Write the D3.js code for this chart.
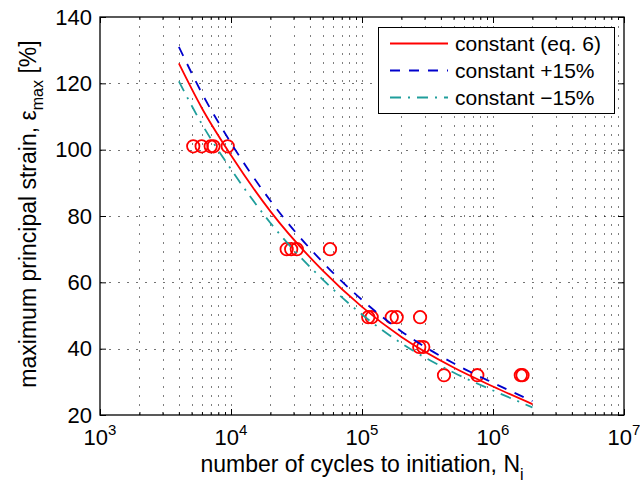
<!DOCTYPE html>
<html>
<head>
<meta charset="utf-8">
<script src="https://cdn.jsdelivr.net/npm/d3@7"></script>
<style>
  html, body { margin: 0; padding: 0; background: #fff; }
  svg { display: block; font-family: "Liberation Sans", Arial, Helvetica, sans-serif; }
</style>
</head>
<body>
<svg id="chart" width="640" height="484"></svg>
<script>
// Fitted strain-life curve (eq. 6) and its +/-15% constant bands
const fitCycles   = [4000, 6000, 10000, 20000, 50000, 100000, 200000, 500000, 1000000, 2000000];
const fitStrain   = [126, 112.5, 98.3, 81.4, 63.6, 52.6, 43.5, 34.3, 28.6, 23.3];
const plusStrain  = [131, 117, 102, 84.6, 66.1, 54.7, 45.2, 35.6, 29.7, 24.2];
const minusStrain = [120.6, 107.7, 94.1, 77.9, 60.9, 50.3, 41.6, 32.8, 27.4, 22.3];

// Test results: cycles to crack initiation and maximum principal strain
const testCycles = [5150, 5970, 7000, 7350, 9440,
                    26600, 28800, 31800, 57000,
                    111600, 118600, 168700, 184000, 277500,
                    273600, 293600,
                    422600, 759000, 1630000, 1680000];
const testStrain = [101, 101, 101, 101, 101,
                    70, 70, 70, 70,
                    49.5, 49.5, 49.5, 49.5, 49.5,
                    40.5, 40.5,
                    32, 32, 32, 32];

const xMajorTicks = [1e3, 1e4, 1e5, 1e6, 1e7];
const xExponents  = ["3", "4", "5", "6", "7"];
const yTicks      = [20, 40, 60, 80, 100, 120, 140];

const legendLabels = ["constant (eq. 6)", "constant +15%", "constant \u221215%"];

const margin = { left: 100, top: 17, right: 624, bottom: 415 };
const svg = d3.select("#chart");

const x = d3.scaleLog().domain([1e3, 1e7]).range([margin.left, margin.right]);
const y = d3.scaleLinear().domain([20, 140]).range([margin.bottom, margin.top]);

// minor decade positions 2..9 x 10^k
const xMinorTicks = [];
for (let d = 3; d < 7; d++) for (let k = 2; k <= 9; k++) xMinorTicks.push(k * Math.pow(10, d));

// dotted grid
const grid = svg.append("g").attr("stroke", "#000").attr("stroke-width", 1).attr("fill", "none");
grid.selectAll("line.vx")
  .data(xMinorTicks.concat([1e4, 1e5, 1e6]))
  .join("line")
  .attr("x1", d => Math.round(x(d)) + 0.5).attr("x2", d => Math.round(x(d)) + 0.5)
  .attr("y1", margin.top).attr("y2", margin.bottom)
  .attr("stroke-opacity", 0.5)
  .attr("stroke-dasharray", "2,7");
grid.selectAll("line.hy")
  .data(yTicks.slice(1, -1))
  .join("line")
  .attr("x1", margin.left).attr("x2", margin.right)
  .attr("y1", d => Math.round(y(d)) + 0.5).attr("y2", d => Math.round(y(d)) + 0.5)
  .attr("stroke-opacity", 0.55)
  .attr("stroke-dasharray", "2,7");

// axes (ticks point inwards)
function styleAxis(g) {
  g.select(".domain").remove();
  g.selectAll(".tick line").attr("stroke", "#000").attr("stroke-width", 1);
}
svg.append("g").attr("transform", `translate(0,${margin.bottom})`)
  .call(d3.axisBottom(x).tickValues(xMajorTicks).tickSize(-6).tickSizeOuter(0).tickFormat(""))
  .call(styleAxis);
svg.append("g").attr("transform", `translate(0,${margin.bottom})`)
  .call(d3.axisBottom(x).tickValues(xMinorTicks).tickSize(-3).tickSizeOuter(0).tickFormat(""))
  .call(styleAxis);
svg.append("g").attr("transform", `translate(0,${margin.top})`)
  .call(d3.axisTop(x).tickValues(xMajorTicks).tickSize(-6).tickSizeOuter(0).tickFormat(""))
  .call(styleAxis);
svg.append("g").attr("transform", `translate(0,${margin.top})`)
  .call(d3.axisTop(x).tickValues(xMinorTicks).tickSize(-3).tickSizeOuter(0).tickFormat(""))
  .call(styleAxis);
svg.append("g").attr("transform", `translate(${margin.left},0)`)
  .call(d3.axisLeft(y).tickValues(yTicks).tickSize(-6).tickSizeOuter(0).tickPadding(8))
  .call(styleAxis)
  .call(g => g.selectAll(".tick text")
    .attr("fill", "#000").attr("font-size", 22)
    .attr("font-family", "'Liberation Sans', Arial, sans-serif"));
svg.append("g").attr("transform", `translate(${margin.right},0)`)
  .call(d3.axisRight(y).tickValues(yTicks).tickSize(-6).tickSizeOuter(0).tickFormat(""))
  .call(styleAxis);

// x tick labels as powers of ten
const xLabels = svg.append("g").attr("font-size", 22).attr("fill", "#000");
xMajorTicks.forEach((v, i) => {
  const t = xLabels.append("text")
    .attr("x", x(v)).attr("y", margin.bottom + 30)
    .attr("text-anchor", "middle");
  t.append("tspan").text("10");
  t.append("tspan").attr("font-size", 15).attr("dy", -10).text(xExponents[i]);
});

// plot frame
svg.append("rect")
  .attr("x", margin.left).attr("y", margin.top)
  .attr("width", margin.right - margin.left).attr("height", margin.bottom - margin.top)
  .attr("fill", "none").attr("stroke", "#000").attr("stroke-width", 1.3);

// curves
const toPoints = vals => fitCycles.map((n, i) => ({ n, e: vals[i] }));
const line = d3.line().x(d => x(d.n)).y(d => y(d.e)).curve(d3.curveMonotoneX);

const series = [
  { vals: fitStrain,   color: "#ff0000", dash: null,         width: 1.8 },
  { vals: plusStrain,  color: "#0000cc", dash: "10,9",       width: 1.8 },
  { vals: minusStrain, color: "#1f9e9b", dash: "11,7,2,7",   width: 1.8 }
];

// test data markers
svg.append("g").selectAll("circle")
  .data(testCycles.map((n, i) => ({ n, e: testStrain[i] })))
  .join("circle")
  .attr("cx", d => x(d.n)).attr("cy", d => y(d.e)).attr("r", 6.2)
  .attr("fill", "none").attr("stroke", "#ff0000").attr("stroke-width", 1.8);

svg.append("g").selectAll("path")
  .data(series)
  .join("path")
  .attr("d", s => line(toPoints(s.vals)))
  .attr("fill", "none")
  .attr("stroke", s => s.color)
  .attr("stroke-width", s => s.width)
  .attr("stroke-dasharray", s => s.dash);

// legend
const lg = svg.append("g");
lg.append("rect").attr("x", 378.5).attr("y", 27.5).attr("width", 236).attr("height", 86)
  .attr("fill", "#fff").attr("stroke", "#000").attr("stroke-width", 1);
series.forEach((s, i) => {
  const yy = 43.5 + i * 27;
  lg.append("line").attr("x1", 390).attr("x2", 448).attr("y1", yy).attr("y2", yy)
    .attr("stroke", s.color).attr("stroke-width", s.width).attr("stroke-dasharray", s.dash);
  lg.append("text").attr("x", 455).attr("y", yy).attr("dy", "0.35em")
    .attr("font-size", 21).attr("fill", "#000").text(legendLabels[i]);
});

// axis titles
const xt = svg.append("text").attr("x", 362).attr("y", 472)
  .attr("text-anchor", "middle").attr("font-size", 23).attr("fill", "#000");
xt.append("tspan").text("number of cycles to initiation, N");
xt.append("tspan").attr("font-size", 16).attr("dy", 8).text("i");

const yt = svg.append("text")
  .attr("transform", "translate(36,214) rotate(-90)")
  .attr("text-anchor", "middle").attr("font-size", 23).attr("fill", "#000");
yt.append("tspan").text("maximum principal strain, \u03b5");
yt.append("tspan").attr("font-size", 16).attr("dy", 7).text("max");
yt.append("tspan").attr("dy", -7).text(" [%]");
</script>
</body>
</html>
